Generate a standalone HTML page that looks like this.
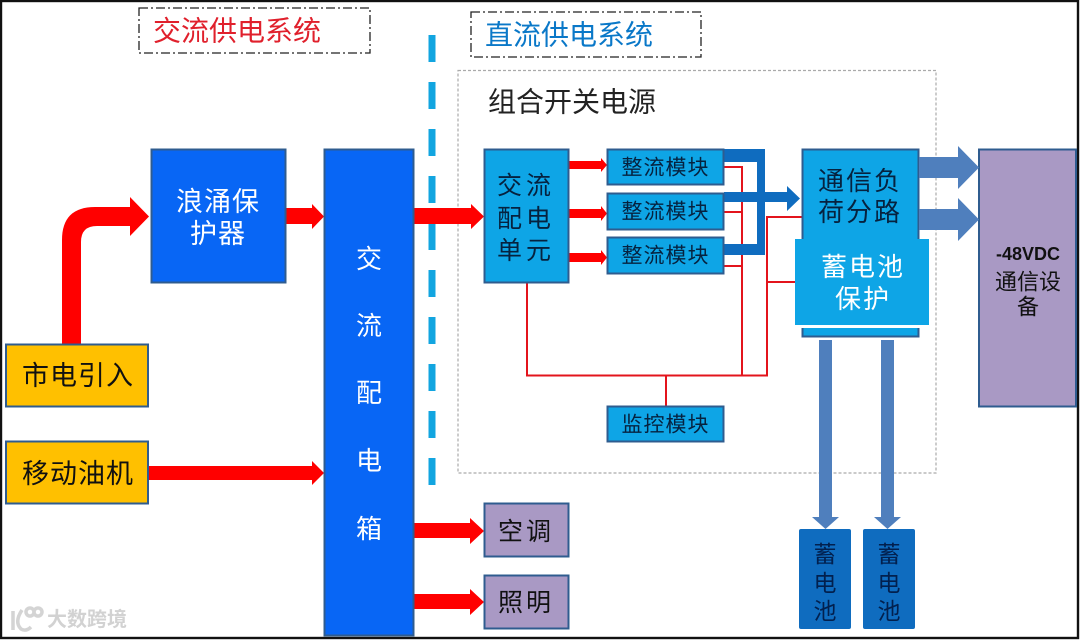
<!DOCTYPE html>
<html><head><meta charset="utf-8"><style>
html,body{margin:0;padding:0;background:#fff}
svg{display:block}
text{font-family:"Liberation Sans","Noto Sans CJK SC",sans-serif;text-anchor:middle;dominant-baseline:central}
</style></head><body>
<svg width="1080" height="640" viewBox="0 0 1080 640" xmlns="http://www.w3.org/2000/svg">
<rect width="1080" height="640" fill="#fff"/>
<rect x="1" y="1" width="1077" height="637" fill="none" stroke="#111" stroke-width="2.4"/>
<!-- title boxes -->
<rect x="139" y="8" width="231" height="45" fill="none" stroke="#222" stroke-width="1.3" stroke-dasharray="9 3 2 3"/>
<text x="237" y="31" font-size="28" fill="#e0202c">交流供电系统</text>
<rect x="471" y="12" width="230" height="45" fill="none" stroke="#222" stroke-width="1.3" stroke-dasharray="9 3 2 3"/>
<text x="569" y="35" font-size="28" fill="#0a78c8">直流供电系统</text>
<line x1="432" y1="35" x2="432" y2="488" stroke="#12a5e0" stroke-width="7" stroke-dasharray="27 20"/>
<rect x="458" y="70.500" width="478" height="402.500" fill="none" stroke="#aaa" stroke-width="1.200" stroke-dasharray="3 2"/>
<text x="572" y="102" font-size="28" fill="#222">组合开关电源</text>
<!-- thin red -->
<g fill="none" stroke="#e3141c" stroke-width="2">
<path d="M724 167H742V375.500M724 212H742M724 266H742"/>
<path d="M527 283V375.500H767V217H802M767 282H796"/>
<path d="M666 375.500V406"/>
</g>
<!-- red arrows -->
<g fill="#ff0000">
<path d="M62 344V240Q62 207 95 207H130V197L149 216.500L130 236V226H97Q81 226 81 242V344Z"/>
<path d="M285 208H312V204L324 216.500L312 229V224H285Z"/>
<path d="M414 208H471V204L484 216.500L471 229V224H414Z"/>
<path d="M148 466H312V461L324 473L312 485V480H148Z"/>
<path d="M414 523H470V518L484 531L470 544V538H414Z"/>
<path d="M414 594H470V589L484 602L470 615V609H414Z"/>
<path d="M569 161H601V158L607 165L601 172V169H569Z"/>
<path d="M569 209H601V206L607 213.500L601 221V218H569Z"/>
<path d="M569 253H601V250L607 257.500L601 265V262H569Z"/>
</g>
<!-- blue thick -->
<path d="M724 149H765V255H724V244H757V162H724Z" fill="#0f6cbf"/>
<path d="M724 192H787V186L800 198.500L787 211V202H724Z" fill="#0f6cbf"/>
<!-- boxes -->
<g stroke="#2f5c8f" stroke-width="2">
<rect x="151.500" y="149.500" width="134" height="133" fill="#0866f5"/>
<rect x="324.500" y="149.500" width="89" height="486" fill="#0866f5"/>
<rect x="6" y="344.500" width="142" height="62" fill="#ffc000"/>
<rect x="6" y="441.500" width="142" height="62" fill="#ffc000"/>
<rect x="484.500" y="149.500" width="84" height="133" fill="#0ea5e6"/>
<rect x="607.500" y="149.500" width="116" height="35" fill="#0ea5e6"/>
<rect x="607.500" y="193.500" width="116" height="36" fill="#0ea5e6"/>
<rect x="607.500" y="237.500" width="116" height="36" fill="#0ea5e6"/>
<rect x="607.500" y="406.500" width="116" height="35" fill="#0ea5e6"/>
<rect x="802.500" y="149.500" width="116" height="187" fill="#0ea5e6"/>
<rect x="979" y="149.500" width="97" height="257" fill="#a999c4"/>
<rect x="484.500" y="503.500" width="84" height="53" fill="#a999c4"/>
<rect x="484.500" y="575.500" width="84" height="53" fill="#a999c4"/>
</g>
<rect x="795" y="325" width="134" height="3" fill="#fff"/>
<rect x="795" y="239" width="134" height="86" fill="#0ea5e6"/>
<rect x="799" y="529" width="52" height="100" rx="2" fill="#0f6cbf"/>
<rect x="863" y="529" width="52" height="100" rx="2" fill="#0f6cbf"/>
<!-- steel arrows -->
<g fill="#4f7fbd">
<path d="M919 157H958V146L979 167.500L958 189V178H919Z"/>
<path d="M919 209H958V198L979 219.500L958 241V230H919Z"/>
<path d="M819 340H832V517H839L825.500 529L812 517H819Z"/>
<path d="M881 340H894V517H901L887.500 529L874 517H881Z"/>
</g>
<!-- text -->
<g fill="#fff">
<text x="218" y="202" font-size="27" letter-spacing="1">浪涌保</text>
<text x="218" y="234" font-size="27" letter-spacing="1">护器</text>
<g font-size="26">
<text x="369" y="259">交</text><text x="369" y="326">流</text><text x="369" y="393">配</text><text x="369" y="461">电</text><text x="369" y="529">箱</text>
</g>
<text x="863" y="267" font-size="26" letter-spacing="2">蓄电池</text>
<text x="863" y="299" font-size="26" letter-spacing="2">保护</text>
</g>
<g fill="#111">
<text x="78" y="376" font-size="27" letter-spacing="1">市电引入</text>
<text x="78" y="474" font-size="27" letter-spacing="1">移动油机</text>
<text x="526" y="532" font-size="25" letter-spacing="3">空调</text>
<text x="526" y="603" font-size="25" letter-spacing="3">照明</text>
<text x="1028" y="254" font-size="18" font-weight="bold">-48VDC</text>
<text x="1028" y="282" font-size="22">通信设</text>
<text x="1028" y="307" font-size="22">备</text>
</g>
<g fill="#06223f">
<text x="526" y="186" font-size="25" letter-spacing="4">交流</text>
<text x="526" y="219" font-size="25" letter-spacing="4">配电</text>
<text x="526" y="251" font-size="25" letter-spacing="4">单元</text>
<g font-size="21">
<text x="665.500" y="168" letter-spacing="1">整流模块</text>
<text x="665.500" y="212" letter-spacing="1">整流模块</text>
<text x="665.500" y="256" letter-spacing="1">整流模块</text>
<text x="665.500" y="425" letter-spacing="1">监控模块</text>
</g>
<text x="860" y="181" font-size="26" letter-spacing="2">通信负</text>
<text x="860" y="212" font-size="26" letter-spacing="2">荷分路</text>
</g>
<g fill="#02204e" font-size="23">
<text x="825" y="554">蓄</text><text x="825" y="583">电</text><text x="825" y="611">池</text>
<text x="889" y="554">蓄</text><text x="889" y="583">电</text><text x="889" y="611">池</text>
</g>
<!-- watermark -->
<g fill="none" stroke="#d4d4d4" stroke-width="3.500">
<path d="M13 611V630M22 610Q14 622 21 629Q26 632 31 627"/>
<circle cx="30" cy="612" r="4"/><circle cx="38" cy="612" r="4"/>
</g>
<text x="87" y="620" font-size="20" font-weight="bold" fill="#d2d2d2">大数跨境</text>
</svg>
</body></html>
